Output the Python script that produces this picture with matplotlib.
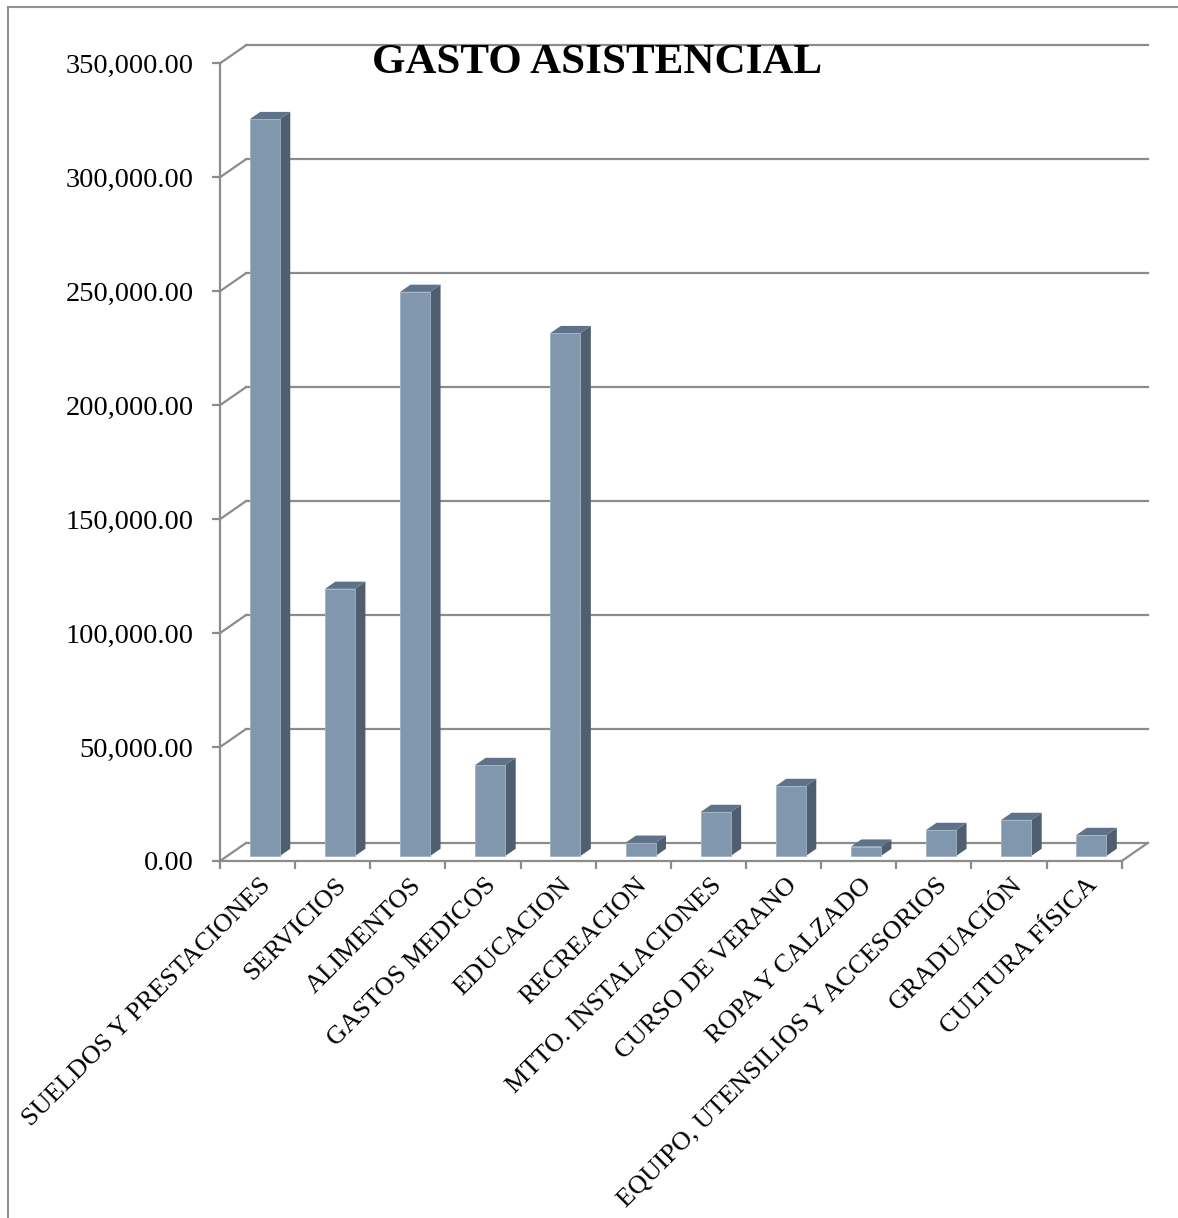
import numpy as np
import matplotlib
matplotlib.use('Agg')
import matplotlib.pyplot as plt
from matplotlib.patches import Polygon
from matplotlib.lines import Line2D
from matplotlib.transforms import ScaledTranslation

# datos
categorias = ['SUELDOS Y PRESTACIONES', 'SERVICIOS', 'ALIMENTOS', 'GASTOS MEDICOS',
              'EDUCACION', 'RECREACION', 'MTTO. INSTALACIONES', 'CURSO DE VERANO',
              'ROPA Y CALZADO', 'EQUIPO, UTENSILIOS Y ACCESORIOS', 'GRADUACIÓN',
              'CULTURA FÍSICA']
gasto = [323300, 117200, 247500, 39900, 229400, 5800, 19300, 30700, 4100,
         11400, 15800, 9200]
y_ticks = [0, 50000, 100000, 150000, 200000, 250000, 300000, 350000]
titulo = 'GASTO ASISTENCIAL'

plt.rcParams['font.family'] = ['Liberation Serif', 'DejaVu Serif']

W, H = 1178, 1218
fig = plt.figure(figsize=(W / 100, H / 100), dpi=100)
# plano frontal del grafico 3D
x0, x1, y0, y1 = 220, 1121.7, 861, 63.3
ax = fig.add_axes([x0 / W, 1 - y0 / H, (x1 - x0) / W, (y0 - y1) / H])
n = len(categorias)
ax.set_xlim(0, n)
ax.set_ylim(0, 350000)
for s in ax.spines.values():
    s.set_visible(False)

# profundidad (oblicua) en unidades de datos
px_x = (x1 - x0) / n
px_y = (y0 - y1) / 350000
dx = 26 / px_x
dy = 18 / px_y

grid_c = '#8c8c8c'
lw = 1.6

# pared del fondo + lineas de la pared lateral
for v in y_ticks:
    ax.plot([0, dx], [v, v + dy], color=grid_c, lw=lw, clip_on=False, zorder=1)
    ax.plot([dx, n + dx], [v + dy, v + dy], color=grid_c, lw=lw, clip_on=False, zorder=1)
# piso
ax.plot([0, n], [0, 0], color=grid_c, lw=lw, clip_on=False, zorder=1)
ax.plot([n, n + dx], [0, dy], color=grid_c, lw=lw, clip_on=False, zorder=1)
# eje vertical frontal
ax.plot([0, 0], [0, 350000], color=grid_c, lw=lw, clip_on=False, zorder=1)

# barras 3D
f0, f1 = 0.28, 0.68
c_front, c_side, c_top = '#8097ae', '#4f5f70', '#5e7389'
for i, v in enumerate(gasto):
    xl = i + 0.3 + f0 * dx
    xr = i + 0.7 + f0 * dx
    yb = f0 * dy
    yt = v + f0 * dy
    ddx = (f1 - f0) * dx
    ddy = (f1 - f0) * dy
    side = Polygon([(xr, yb), (xr, yt), (xr + ddx, yt + ddy), (xr + ddx, yb + ddy)],
                   closed=True, fc=c_side, ec='none', zorder=3, clip_on=False)
    top = Polygon([(xl, yt), (xr, yt), (xr + ddx, yt + ddy), (xl + ddx, yt + ddy)],
                  closed=True, fc=c_top, ec='none', zorder=3, clip_on=False)
    front = Polygon([(xl, yb), (xr, yb), (xr, yt), (xl, yt)],
                    closed=True, fc=c_front, ec='#9fb1c3', lw=0.6, zorder=4, clip_on=False)
    ax.add_patch(side)
    ax.add_patch(top)
    ax.add_patch(front)

# ejes y etiquetas
ax.set_yticks(y_ticks)
ax.set_yticklabels([f'{v:,.2f}' for v in y_ticks], fontsize=20.5)
ax.tick_params(axis='y', length=6, width=lw, color=grid_c, pad=13)
ax.set_xticks(np.arange(n + 1))
ax.set_xticklabels([])
ax.tick_params(axis='x', length=6, width=lw, color=grid_c)

off = ScaledTranslation(2 / 100, -13 / 100, fig.dpi_scale_trans)
for i, lab in enumerate(categorias):
    ax.text(i + 0.5, 0, lab, rotation=45, ha='right', va='top',
            rotation_mode='anchor', fontsize=19,
            transform=ax.transData + off)

fig.text(597 / W, 1 - 72.7 / H, titulo, ha='center', va='baseline',
         fontsize=31, fontweight='bold')

# marco del area del grafico
fig.add_artist(Line2D([8 / W, 1], [1 - 7 / H, 1 - 7 / H], color='#909090', lw=1.5))
fig.add_artist(Line2D([8 / W, 8 / W], [0, 1 - 7 / H], color='#909090', lw=1.5))

fig.savefig('out.png', dpi=100)
